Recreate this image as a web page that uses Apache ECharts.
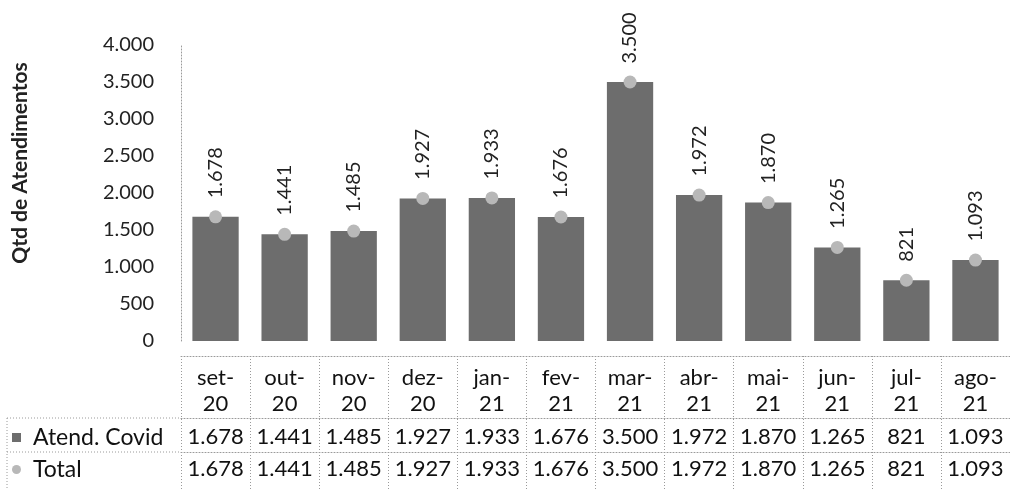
<!DOCTYPE html>
<html>
<head>
<meta charset="utf-8">
<script src="https://cdn.jsdelivr.net/npm/echarts@6/dist/echarts.min.js"></script>
<style>
  html, body { margin: 0; padding: 0; background: #fff; }
  #main { width: 1010px; height: 490px; }
</style>
</head>
<body>
<div id="main"></div>
<script>
// dados
var meses = ["set-20", "out-20", "nov-20", "dez-20", "jan-21", "fev-21", "mar-21", "abr-21", "mai-21", "jun-21", "jul-21", "ago-21"];
var atendCovid = [1678, 1441, 1485, 1927, 1933, 1676, 3500, 1972, 1870, 1265, 821, 1093];
var total = [1678, 1441, 1485, 1927, 1933, 1676, 3500, 1972, 1870, 1265, 821, 1093];
var yTicks = [0, 500, 1000, 1500, 2000, 2500, 3000, 3500, 4000];

function fmt(v) {
  return String(v).replace(/\B(?=(\d{3})+(?!\d))/g, ".");
}

var dotted = { color: "#9a9a9a", type: [1, 2], width: 1 };

// uma legenda por linha da tabela
function legendRow(name, icon, top) {
  return {
    left: 12,
    top: top,
    padding: 0,
    itemWidth: 9,
    itemHeight: 9,
    textStyle: { fontSize: 23, color: "#111", lineHeight: 22, padding: [0, 0, 0, 7] },
    data: [{ name: name, icon: icon }],
  };
}

var chart = echarts.init(document.getElementById("main"));
chart.setOption({
  animation: false,
  textStyle: { fontFamily: "Lato" },
  legend: [
    legendRow("Atend. Covid", "rect", 426),
    legendRow("Total", "circle", 458),
  ],
  grid: {
    left: 181,
    top: 45,
    width: 844,
    bottom: 149,
  },
  xAxis: [
    {
      type: "category",
      data: meses,
      axisLine: { show: false },
      axisTick: { show: false },
      axisLabel: { show: false },
    },
    {
      // cabeçalho da tabela
      type: "category",
      data: meses,
      position: "bottom",
      offset: 15,
      axisLine: { show: true, lineStyle: dotted },
      axisTick: { show: true, length: 134, lineStyle: dotted },
      axisLabel: {
        interval: 0,
        fontSize: 22,
        lineHeight: 26,
        margin: 9,
        color: "#111",
        formatter: function (v) {
          return v.replace("-", "-\n");
        },
      },
    },
    {
      type: "category",
      data: meses,
      position: "bottom",
      offset: 77,
      axisLine: { show: true, lineStyle: dotted },
      axisTick: { show: false },
      axisLabel: {
        interval: 0,
        fontSize: 22,
        lineHeight: 22,
        margin: 8,
        color: "#111",
        formatter: function (v, i) {
          return fmt(atendCovid[i]);
        },
      },
    },
    {
      type: "category",
      data: meses,
      position: "bottom",
      offset: 111,
      axisLine: { show: true, lineStyle: dotted },
      axisTick: { show: false },
      axisLabel: {
        interval: 0,
        fontSize: 22,
        lineHeight: 22,
        margin: 6,
        color: "#111",
        formatter: function (v, i) {
          return fmt(total[i]);
        },
      },
    },
  ],
  yAxis: {
    type: "value",
    min: yTicks[0],
    max: yTicks[yTicks.length - 1],
    interval: yTicks[1] - yTicks[0],
    name: "Qtd de Atendimentos",
    nameLocation: "middle",
    nameGap: 150,
    nameTextStyle: { fontSize: 21, fontWeight: "bold", color: "#222", padding: [0, 0, 0, 60] },
    axisLine: { show: true, lineStyle: dotted },
    axisTick: { show: false },
    splitLine: { show: false },
    axisLabel: {
      fontSize: 20,
      color: "#222",
      margin: 27,
      formatter: function (v) {
        return fmt(v);
      },
    },
  },
  series: [
    {
      name: "Atend. Covid",
      type: "bar",
      data: atendCovid,
      barWidth: "67%",
      itemStyle: { color: "#6d6d6d" },
    },
    {
      name: "Total",
      type: "line",
      data: total,
      symbol: "circle",
      symbolSize: 13,
      lineStyle: { width: 0 },
      itemStyle: { color: "#b8b8b8" },
      label: {
        show: true,
        position: "top",
        rotate: 90,
        align: "left",
        verticalAlign: "middle",
        distance: 12,
        fontSize: 20,
        color: "#222",
        formatter: function (p) {
          return fmt(p.value);
        },
      },
      z: 3,
    },
  ],
  graphic: [
    {
      type: "line",
      shape: { x1: 7, y1: 418, x2: 181, y2: 418 },
      style: { stroke: "#9a9a9a", lineDash: [1, 2], lineWidth: 1 },
    },
    {
      type: "line",
      shape: { x1: 7, y1: 452, x2: 181, y2: 452 },
      style: { stroke: "#9a9a9a", lineDash: [1, 2], lineWidth: 1 },
    },
    {
      type: "line",
      shape: { x1: 7, y1: 418, x2: 7, y2: 490 },
      style: { stroke: "#9a9a9a", lineDash: [1, 2], lineWidth: 1 },
    },
  ],
});
</script>
</body>
</html>
